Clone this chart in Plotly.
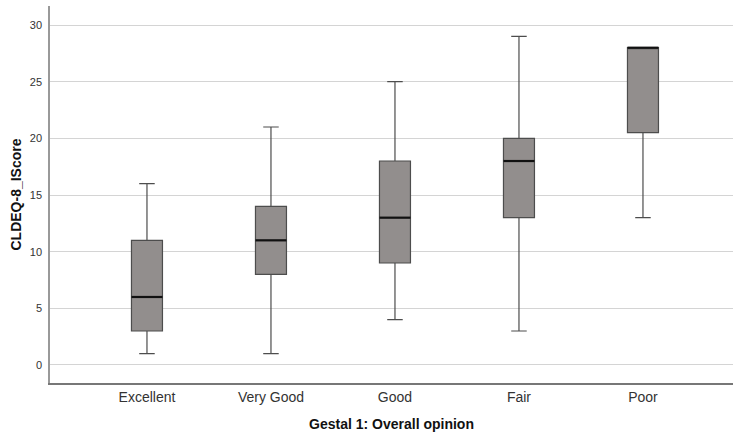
import plotly.graph_objects as go

categories = ["Excellent", "Very Good", "Good", "Fair", "Poor"]
lower_whisker = [1, 1, 4, 3, 13]
q1 = [3, 8, 9, 13, 20.5]
median = [6, 11, 13, 18, 28]
q3 = [11, 14, 18, 20, 28]
upper_whisker = [16, 21, 25, 29, 28]
y_ticks = [0, 5, 10, 15, 20, 25, 30]

pos = list(range(len(categories)))
box_w = 0.25

fig = go.Figure()
fig.add_trace(go.Box(
    x=pos, q1=q1, median=median, q3=q3,
    lowerfence=lower_whisker, upperfence=upper_whisker,
    width=box_w, whiskerwidth=0.5,
    fillcolor="#928e8d",
    line=dict(color="#4d4d4d", width=1.2),
    boxpoints=False, hoverinfo="skip", showlegend=False,
))
mx, my = [], []
for p, m in zip(pos, median):
    mx += [p - box_w / 2, p + box_w / 2, None]
    my += [m, m, None]
fig.add_trace(go.Scatter(x=mx, y=my, mode="lines",
                         line=dict(color="#111111", width=2.2),
                         hoverinfo="skip", showlegend=False))

fig.update_layout(
    width=733, height=439,
    margin=dict(l=50, r=0, t=6, b=56),
    paper_bgcolor="white", plot_bgcolor="white",
    font=dict(family="Liberation Sans, Arial, sans-serif", color="#333333"),
    xaxis=dict(
        range=[-0.782, 4.726], tickmode="array", tickvals=pos, ticktext=categories,
        showgrid=False, zeroline=False, showline=True, linecolor="#777777", linewidth=1.5,
        ticks="", tickfont=dict(size=14, color="#333333"),
        title=dict(text="<b>Gestal 1: Overall opinion</b>", font=dict(size=14, color="#111111"), standoff=16),
    ),
    yaxis=dict(
        range=[-1.59, 31.68], tickmode="array", tickvals=y_ticks,
        showgrid=True, gridcolor="#d4d4d4", gridwidth=1.2, zeroline=False,
        showline=True, linecolor="#999999", linewidth=1.5,
        ticks="", tickfont=dict(size=11, color="#333333"), ticklabelstandoff=4,
        title=dict(text="<b>CLDEQ-8_IScore</b>", font=dict(size=14, color="#111111"), standoff=5),
    ),
)
fig.write_html("out.html")
